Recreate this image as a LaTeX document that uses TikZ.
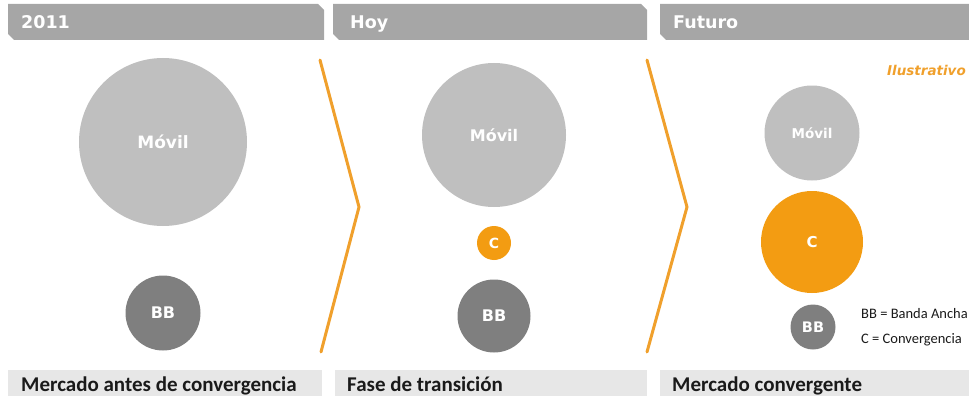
\documentclass[tikz,border=0pt]{standalone}
\usepackage{fontspec}
\setmainfont{Carlito}
\newfontfamily\headfont{DejaVu Sans}
\definecolor{bar}{HTML}{A6A6A6}
\definecolor{footgray}{HTML}{E7E7E7}
\definecolor{movil}{HTML}{BFBFBF}
\definecolor{band}{HTML}{7F7F7F}
\definecolor{conv}{HTML}{F39C12}
\definecolor{chev}{HTML}{F0A02C}
\definecolor{ink}{HTML}{1A1A1A}
\tikzset{
  head/.style={fill=bar, draw=none},
  footbar/.style={fill=footgray, draw=none},
  htxt/.style={text=white, font=\headfont\bfseries\fontsize{17.5}{19}\selectfont, anchor=base west, inner sep=0pt},
  ftxt/.style={text=ink, font=\bfseries\fontsize{21}{24}\selectfont, anchor=base west, inner sep=0pt},
  bub/.style={circle, draw=none, inner sep=0pt, text=white},
  chevron/.style={draw=chev, line width=3pt, line cap=round, line join=miter},
  legtxt/.style={text=ink, font=\fontsize{14.5}{17}\selectfont, anchor=base west, inner sep=0pt},
}
\newcommand{\bubfont}[1]{\headfont\bfseries\fontsize{#1}{#1}\selectfont}

\begin{document}
\begin{tikzpicture}[x=1pt, y=-1pt]
  \useasboundingbox (0,0) rectangle (969,396);
  \clip (0,0) rectangle (969,396);

  % header bars
  \fill[head] (8,4) -- (318,4) -- (324,10) -- (324,40) -- (14,40) -- (8,34) -- cycle;
  \fill[head] (333,4) -- (641,4) -- (647,10) -- (647,40) -- (339,40) -- (333,34) -- cycle;
  \fill[head] (660,4) -- (975,4) -- (975,40) -- (666,40) -- (660,34) -- cycle;
  \node[htxt] (h1) at (21,29) {2011};
  \node[htxt] (h2) at (350,29) {Hoy};
  \node[htxt] (h3) at (673,29) {Futuro};

  % footer bars
  \fill[footgray] (8,370) rectangle (322,396);
  \fill[footgray] (335,370) rectangle (647,396);
  \fill[footgray] (660,370) rectangle (975,396);
  \node[ftxt] (f1) at (21,391) {Mercado antes de convergencia};
  \node[ftxt] (f2) at (347,391) {Fase de transición};
  \node[ftxt] (f3) at (672,391) {Mercado convergente};

  % chevrons
  \draw[chevron] (320,60) -- (359,207) -- (321,352);
  \draw[chevron] (647,60) -- (687,207) -- (647,352);

  % 2011
  \node[bub, fill=movil, minimum size=168pt, font=\bubfont{17}] (mov1) at (163,142) {Móvil};
  \node[bub, fill=band, minimum size=75pt, font=\bubfont{16}] (bb1) at (163,313) {BB};

  % hoy
  \node[bub, fill=movil, minimum size=144pt, font=\bubfont{16}] (mov2) at (494,135) {Móvil};
  \node[bub, fill=conv, minimum size=34pt, font=\bubfont{14}] (c2) at (494,243) {C};
  \node[bub, fill=band, minimum size=73pt, font=\bubfont{16}] (bb2) at (494,316) {BB};

  % futuro
  \node[bub, fill=movil, minimum size=95pt, font=\bubfont{13.5}] (mov3) at (812,133) {Móvil};
  \node[bub, fill=conv, minimum size=102pt, font=\bubfont{15}] (c3) at (812,242) {C};
  \node[bub, fill=band, minimum size=45pt, font=\bubfont{14.5}] (bb3) at (813,327) {BB};

  \node[text=chev, font=\headfont\bfseries\itshape\fontsize{13.5}{15}\selectfont, anchor=base east, inner sep=0pt] (ilus) at (966,75) {Ilustrativo};
  \node[legtxt] (leg1) at (861,318) {BB = Banda Ancha};
  \node[legtxt] (leg2) at (861,343) {C = Convergencia};
\end{tikzpicture}
\end{document}
